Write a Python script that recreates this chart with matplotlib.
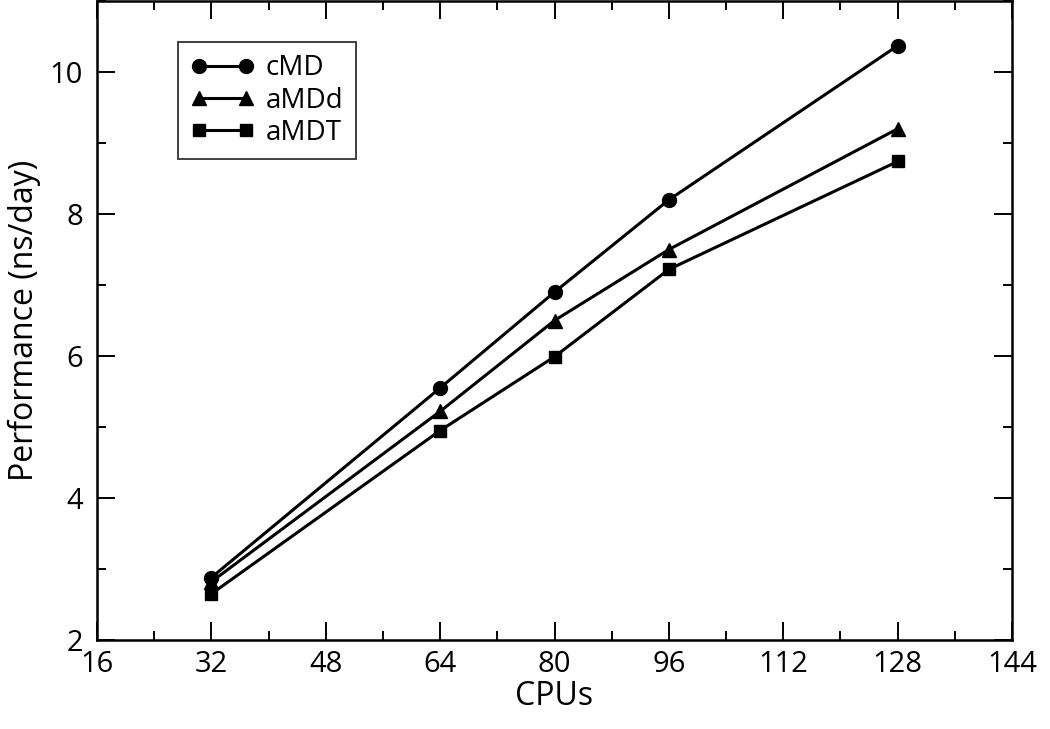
import matplotlib
matplotlib.use("Agg")
import matplotlib.pyplot as plt
from matplotlib.ticker import MultipleLocator

plt.rcParams['font.family'] = ['Open Sans', 'DejaVu Sans']

# data
cpus = [32, 64, 80, 96, 128]
cmd = [2.88, 5.55, 6.90, 8.20, 10.37]
amdd = [2.82, 5.22, 6.50, 7.50, 9.20]
amdt = [2.65, 4.95, 5.99, 7.22, 8.74]
xticks = [16, 32, 48, 64, 80, 96, 112, 128, 144]
yticks = [2, 4, 6, 8, 10]

fig = plt.figure(figsize=(10.5, 7.29), dpi=100)
ax = fig.add_axes([0.0924, 0.1221, 0.8714, 0.8765])

ax.plot(cpus, cmd, '-o', color='black', lw=2.2, ms=10, label='cMD')
ax.plot(cpus, amdd, '-^', color='black', lw=2.2, ms=10, label='aMDd')
ax.plot(cpus, amdt, '-s', color='black', lw=2.2, ms=8.5, label='aMDT')

ax.set_xlim(16, 144)
ax.set_ylim(2, 11)
ax.set_xticks(xticks)
ax.set_yticks(yticks)
ax.xaxis.set_minor_locator(MultipleLocator(8))
ax.yaxis.set_minor_locator(MultipleLocator(1))

ax.tick_params(which='both', direction='in', top=True, right=True,
               width=1.4, labelsize=21)
ax.tick_params(axis='x', pad=7)
ax.tick_params(axis='y', pad=10)
ax.tick_params(which='major', length=13)
ax.tick_params(which='minor', length=6.5)
for s in ax.spines.values():
    s.set_linewidth(1.8)

ax.set_xlabel('CPUs', fontsize=23, labelpad=1)
ax.set_ylabel('Performance (ns/day)', fontsize=23, labelpad=6)

leg = ax.legend(loc='upper left', bbox_to_anchor=(0.0885, 0.936), numpoints=2,
                fontsize=20, frameon=True, fancybox=False, handlelength=2.3,
                handletextpad=0.4, labelspacing=0.15, borderpad=0.45,
                borderaxespad=0)
leg.get_frame().set_edgecolor('black')
leg.get_frame().set_linewidth(1.3)

fig.savefig('out.png', dpi=100)
